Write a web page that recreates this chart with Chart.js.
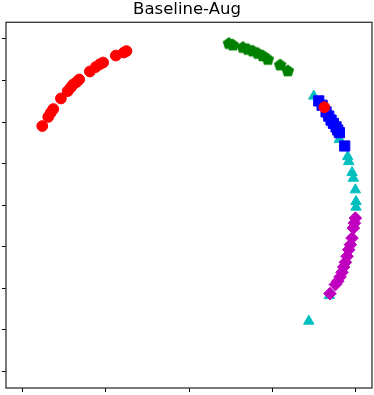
<!DOCTYPE html>
<html>
<head>
<meta charset="utf-8">
<script src="https://cdn.jsdelivr.net/npm/chart.js@4/dist/chart.umd.min.js"></script>
<style>
  html, body { margin: 0; padding: 0; background: #fff; }
  #wrap { width: 374px; height: 395px; }
</style>
</head>
<body>
<div id="wrap"><canvas id="c" width="374" height="395"></canvas></div>
<script>
// ---- data ----
const titleText = "Baseline-Aug";
const xTicks = [-1, -0.5, 0, 0.5, 1];
const yTicks = [-1, -0.75, -0.5, -0.25, 0, 0.25, 0.5, 0.75, 1];

const redX = [-0.882, -0.846, -0.831, -0.816, -0.770, -0.729, -0.711, -0.696, -0.675, -0.660, -0.596, -0.560, -0.536, -0.516, -0.440, -0.392, -0.376, 0.814];
const redY = [0.476, 0.531, 0.556, 0.578, 0.642, 0.686, 0.708, 0.726, 0.741, 0.756, 0.804, 0.831, 0.848, 0.858, 0.900, 0.918, 0.927, 0.589];

const greenX = [0.240, 0.264, 0.324, 0.354, 0.384, 0.414, 0.444, 0.474, 0.548, 0.594];
const greenY = [0.972, 0.962, 0.948, 0.936, 0.926, 0.912, 0.897, 0.876, 0.842, 0.807];

const cyanX = [0.750, 0.904, 0.954, 0.960, 0.980, 0.988, 1.000, 1.004, 1.004, 0.844, 0.720];
const cyanY = [0.656, 0.396, 0.292, 0.262, 0.196, 0.162, 0.092, 0.022, -0.012, -0.544, -0.698];

const blueX = [0.780, 0.800, 0.824, 0.840, 0.854, 0.868, 0.884, 0.894, 0.904, 0.936];
const blueY = [0.627, 0.601, 0.561, 0.536, 0.512, 0.492, 0.471, 0.452, 0.436, 0.356];

const magentaX = [1.000, 0.994, 0.988, 0.980, 0.970, 0.960, 0.950, 0.940, 0.930, 0.920, 0.908, 0.894, 0.880, 0.847];
const magentaY = [-0.078, -0.108, -0.138, -0.198, -0.238, -0.268, -0.308, -0.344, -0.372, -0.404, -0.432, -0.458, -0.478, -0.532];

const toPts = (xs, ys) => xs.map((x, i) => ({ x: x, y: ys[i] }));

// pentagon marker image
function pentagon(r, color) {
  const s = Math.ceil(r * 2 + 2);
  const cv = document.createElement('canvas');
  cv.width = s; cv.height = s;
  const g = cv.getContext('2d');
  g.fillStyle = color;
  g.beginPath();
  for (let k = 0; k < 5; k++) {
    const a = -Math.PI / 2 + k * 2 * Math.PI / 5;
    const px = s / 2 + r * Math.cos(a), py = s / 2 + r * Math.sin(a);
    if (k === 0) g.moveTo(px, py); else g.lineTo(px, py);
  }
  g.closePath();
  g.fill();
  return cv;
}

const framePlugin = {
  id: 'frame',
  afterDraw(chart) {
    const a = chart.chartArea, ctx = chart.ctx;
    ctx.save();
    ctx.strokeStyle = '#333';
    ctx.lineWidth = 1.3;
    ctx.strokeRect(a.left, a.top, a.right - a.left, a.bottom - a.top);
    ctx.restore();
  }
};

const axisCommon = {
  type: 'linear',
  min: -1.1,
  max: 1.1,
  border: { display: false },
  grid: { drawOnChartArea: false, drawTicks: true, tickLength: 4, color: '#000', lineWidth: 1 },
  ticks: { display: false }
};

new Chart(document.getElementById('c'), {
  type: 'scatter',
  data: {
    datasets: [
      { label: 'red', data: toPts(redX, redY), pointStyle: 'circle', pointRadius: 5.4,
        backgroundColor: '#ff0000', borderColor: '#ff0000', borderWidth: 1 },
      { label: 'magenta', data: toPts(magentaX, magentaY), pointStyle: 'rectRot', pointRadius: 6.3,
        backgroundColor: '#bf00bf', borderColor: '#bf00bf', borderWidth: 1 },
      { label: 'blue', data: toPts(blueX, blueY), pointStyle: 'rect', pointRadius: 7.2,
        backgroundColor: '#0000ff', borderColor: '#0000ff', borderWidth: 1 },
      { label: 'green', data: toPts(greenX, greenY), pointStyle: pentagon(6.6, '#008000'), pointRadius: 6.6,
        backgroundColor: '#008000', borderColor: '#008000', borderWidth: 1 },
      { label: 'cyan', data: toPts(cyanX, cyanY), pointStyle: 'triangle', pointRadius: 6,
        backgroundColor: '#00bfbf', borderColor: '#00bfbf', borderWidth: 1 }
    ]
  },
  options: {
    responsive: false,
    animation: false,
    layout: { autoPadding: false, padding: { left: 2, right: 2, top: 0, bottom: 3 } },
    plugins: {
      legend: { display: false },
      tooltip: { enabled: false },
      title: {
        display: true,
        text: titleText,
        color: '#000',
        font: { family: 'DejaVu Sans', size: 16.5, weight: 'normal' },
        padding: { top: 0, bottom: 2.5 }
      }
    },
    scales: {
      x: Object.assign({}, axisCommon, {
        afterBuildTicks: s => { s.ticks = xTicks.map(v => ({ value: v })); }
      }),
      y: Object.assign({}, axisCommon, {
        afterBuildTicks: s => { s.ticks = yTicks.map(v => ({ value: v })); }
      })
    }
  },
  plugins: [framePlugin]
});
</script>
</body>
</html>
